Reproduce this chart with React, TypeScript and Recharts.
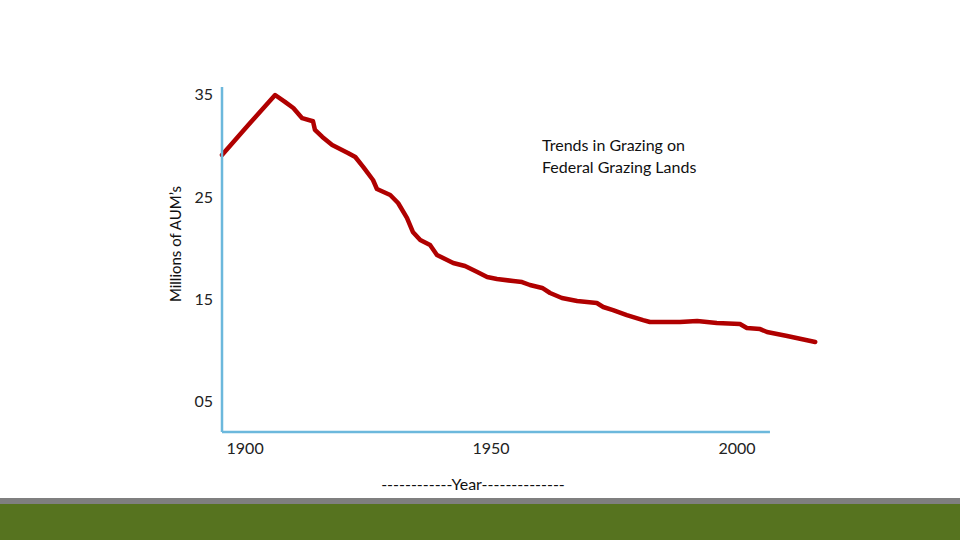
import React from 'react';
import { LineChart, Line, XAxis, YAxis, ReferenceLine } from 'recharts';

// years and grazing (millions of AUMs)
const years = [
  1895.3, 1900.6, 1906.1, 1908.1, 1909.8, 1911.6, 1913.8, 1914.2, 1915.7, 1917.7,
  1920.9, 1922.4, 1924.0, 1926.0, 1926.8, 1929.5, 1931.1, 1932.9, 1934.1, 1935.6,
  1937.6, 1939.0, 1942.3, 1944.7, 1947.2, 1949.2, 1951.2, 1954.5, 1956.3, 1957.9,
  1960.4, 1962.0, 1964.4, 1967.5, 1971.5, 1972.8, 1974.8, 1977.6, 1980.9, 1982.3,
  1988.4, 1991.9, 1995.9, 2000.6, 2002.0, 2004.7, 2006.1, 2010.2, 2015.9,
];
const aums = [
  29.1, 32.0, 34.97, 34.3, 33.7, 32.7, 32.4, 31.55, 30.86, 30.08,
  29.3, 28.9, 27.93, 26.65, 25.77, 25.19, 24.4, 22.94, 21.57, 20.78,
  20.29, 19.32, 18.53, 18.24, 17.65, 17.16, 16.97, 16.77, 16.67, 16.38,
  16.09, 15.6, 15.11, 14.81, 14.62, 14.23, 13.93, 13.44, 12.95, 12.76,
  12.76, 12.86, 12.66, 12.56, 12.17, 12.07, 11.78, 11.39, 10.8,
];
const yearTicks = [1900, 1950, 2000];
const aumTicks = [35, 25, 15, 5];

const data = years.map((year, i) => ({ year, aum: aums[i] }));

const AXIS_BLUE = '#6cb8dc';
const FONT = 'Lato, "Open Sans", sans-serif';

export default function App() {
  return (
    <div style={{ position: 'absolute', left: 0, top: 0, width: 960, height: 540, background: '#fff', fontFamily: FONT }}>
      <LineChart
        width={960}
        height={540}
        data={data}
        margin={{ top: 87, right: 144, bottom: 78, left: 192 }}
      >
        <XAxis
          dataKey="year"
          type="number"
          domain={[1895.3, 2016.06]}
          ticks={yearTicks}
          axisLine={false}
          tickLine={false}
          tickSize={0}
          tickMargin={11}
          height={30}
          tick={{ fill: '#222', fontSize: 16, fontFamily: FONT }}
        />
        <YAxis
          type="number"
          domain={[2.0, 35.75]}
          ticks={aumTicks}
          tickFormatter={(v) => String(v).padStart(2, '0')}
          axisLine={{ stroke: AXIS_BLUE, strokeWidth: 2.5 }}
          tickLine={false}
          tickSize={0}
          tickMargin={9}
          width={30}
          tick={{ fill: '#222', fontSize: 16, fontFamily: FONT }}
        />
        <ReferenceLine
          segment={[{ x: 1895.3, y: 2.0 }, { x: 2006.7, y: 2.0 }]}
          stroke={AXIS_BLUE}
          strokeWidth={2.5}
          ifOverflow="visible"
        />
        <Line
          type="linear"
          dataKey="aum"
          stroke="#b00000"
          strokeWidth={4.5}
          strokeLinejoin="round"
          strokeLinecap="round"
          dot={false}
          isAnimationActive={false}
        />
      </LineChart>

      <div style={{ position: 'absolute', left: 542, top: 134, fontSize: 16, lineHeight: '22px', color: '#111' }}>
        Trends in Grazing on
        <br />
        Federal Grazing Lands
      </div>

      <div
        style={{
          position: 'absolute',
          left: 175,
          top: 244,
          transform: 'translate(-50%, -50%) rotate(-90deg)',
          fontSize: 15,
          whiteSpace: 'nowrap',
          color: '#111',
        }}
      >
        Millions of AUM’s
      </div>

      <div style={{ position: 'absolute', left: 473, top: 474, transform: 'translateX(-50%)', fontSize: 16, whiteSpace: 'nowrap', color: '#111' }}>
        ------------Year--------------
      </div>

      <div style={{ position: 'absolute', left: 0, top: 498, width: 960, height: 6, background: '#7f7f7f' }} />
      <div style={{ position: 'absolute', left: 0, top: 504, width: 960, height: 36, background: '#56731f' }} />
    </div>
  );
}
